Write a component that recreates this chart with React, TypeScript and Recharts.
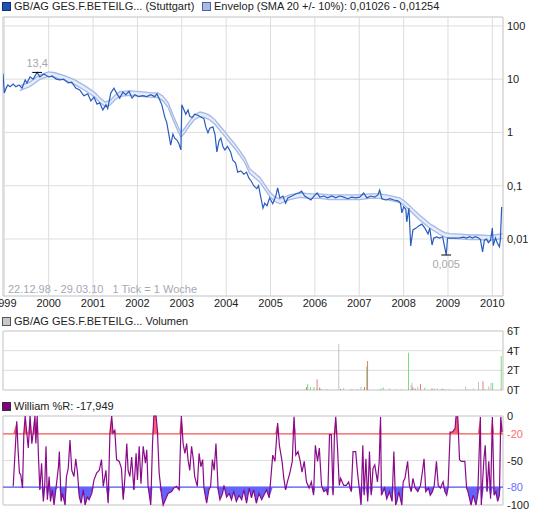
import React from 'react';
import {
  ComposedChart, Line, Area, Bar, Cell, XAxis, YAxis, CartesianGrid, ReferenceLine, ReferenceArea,
} from 'recharts';

// ---------- data ----------
const yearTicks = [1999, 2000, 2001, 2002, 2003, 2004, 2005, 2006, 2007, 2008, 2009, 2010];
const timeDomain: [number, number] = [1998.97, 2010.24];
const priceTicks = [0.01, 0.1, 1, 10, 100];
const priceDomain: [number, number] = [0.00085, 147];
const volumeTicks = [0, 2, 4, 6];
const williamsTicks = [0, -20, -50, -80, -100];

// weekly close (EUR): [time in years, price]
const priceSeries: [number, number][] = [
  [1998.97, 12.8], [1999.0, 5.5], [1999.04, 6.8], [1999.08, 7.8], [1999.13, 7.2], [1999.2, 8.1], [1999.26, 7.2],
  [1999.33, 7.8], [1999.4, 6.8], [1999.47, 9.7], [1999.51, 8.5], [1999.58, 11.0], [1999.65, 10.0], [1999.74, 13.4],
  [1999.8, 11.0], [1999.89, 12.5], [2000.0, 11.0], [2000.08, 11.5], [2000.17, 10.0], [2000.25, 9.7], [2000.34, 10.0],
  [2000.44, 8.5], [2000.52, 8.8], [2000.61, 6.8], [2000.7, 6.3], [2000.79, 4.9], [2000.88, 5.3], [2000.95, 3.9],
  [2001.02, 4.6], [2001.09, 3.4], [2001.15, 3.6], [2001.22, 2.65], [2001.29, 3.3], [2001.33, 2.8], [2001.4, 5.5],
  [2001.47, 6.8], [2001.54, 5.3], [2001.6, 4.4], [2001.67, 5.7], [2001.74, 5.1], [2001.81, 5.9], [2001.88, 4.4],
  [2001.94, 5.1], [2002.03, 4.7], [2002.12, 4.9], [2002.21, 4.7], [2002.3, 5.1], [2002.39, 4.7], [2002.44, 5.3],
  [2002.5, 4.1], [2002.55, 3.3], [2002.62, 1.9], [2002.66, 1.55], [2002.71, 0.9], [2002.75, 0.58], [2002.8, 0.93],
  [2002.84, 0.78], [2002.89, 0.72], [2002.93, 0.63], [2002.98, 0.47], [2003.0, 3.3], [2003.05, 2.65], [2003.09, 2.2],
  [2003.14, 2.65], [2003.18, 2.0], [2003.23, 1.9], [2003.29, 2.2], [2003.36, 2.1], [2003.43, 1.95], [2003.5, 1.8],
  [2003.54, 1.27], [2003.59, 0.98], [2003.63, 1.2], [2003.7, 1.27], [2003.75, 0.9], [2003.79, 0.43], [2003.84, 0.7],
  [2003.88, 0.78], [2003.93, 0.53], [2003.97, 0.47], [2004.03, 0.55], [2004.1, 0.43], [2004.15, 0.3], [2004.21, 0.27],
  [2004.26, 0.18], [2004.33, 0.19], [2004.4, 0.165], [2004.46, 0.18], [2004.51, 0.14], [2004.57, 0.12], [2004.62, 0.1],
  [2004.69, 0.088], [2004.73, 0.1], [2004.78, 0.061], [2004.83, 0.038], [2004.87, 0.047], [2004.92, 0.042],
  [2004.98, 0.059], [2005.05, 0.046], [2005.12, 0.064], [2005.16, 0.091], [2005.21, 0.059], [2005.28, 0.064],
  [2005.34, 0.047], [2005.39, 0.059], [2005.48, 0.064], [2005.57, 0.07], [2005.64, 0.073], [2005.7, 0.079],
  [2005.77, 0.064], [2005.84, 0.059], [2005.91, 0.054], [2005.98, 0.064], [2006.05, 0.073], [2006.11, 0.061],
  [2006.2, 0.064], [2006.29, 0.059], [2006.38, 0.064], [2006.47, 0.059], [2006.56, 0.064], [2006.65, 0.061],
  [2006.74, 0.057], [2006.83, 0.061], [2006.92, 0.059], [2007.01, 0.061], [2007.1, 0.073], [2007.17, 0.059],
  [2007.26, 0.064], [2007.35, 0.061], [2007.42, 0.067], [2007.46, 0.083], [2007.51, 0.057], [2007.6, 0.054],
  [2007.69, 0.057], [2007.78, 0.054], [2007.87, 0.052], [2007.93, 0.047], [2007.96, 0.031], [2008.0, 0.04],
  [2008.05, 0.036], [2008.07, 0.021], [2008.12, 0.038], [2008.16, 0.0074], [2008.21, 0.0148], [2008.28, 0.016],
  [2008.34, 0.0175], [2008.41, 0.019], [2008.48, 0.016], [2008.55, 0.0124], [2008.59, 0.016], [2008.64, 0.0077],
  [2008.68, 0.0104], [2008.75, 0.0109], [2008.81, 0.0104], [2008.88, 0.011], [2008.96, 0.005], [2008.99, 0.0104],
  [2009.08, 0.0104], [2009.17, 0.0104], [2009.26, 0.0105], [2009.35, 0.0108], [2009.42, 0.0104], [2009.49, 0.011],
  [2009.55, 0.0104], [2009.62, 0.011], [2009.69, 0.0104], [2009.73, 0.0098], [2009.78, 0.0057], [2009.82, 0.0095],
  [2009.87, 0.01], [2009.91, 0.0085], [2009.96, 0.0095], [2010.0, 0.016], [2010.02, 0.0075], [2010.07, 0.0105],
  [2010.11, 0.0085], [2010.16, 0.0071], [2010.18, 0.0095], [2010.21, 0.04],
];

// SMA 20 midline of the envelope
const envelopeMid: [number, number][] = [
  [1999.35, 6.8], [1999.58, 8.1], [1999.8, 11.0], [2000.0, 12.5], [2000.14, 12.0], [2000.37, 10.5], [2000.59, 8.8],
  [2000.82, 6.8], [2001.04, 5.1], [2001.15, 4.1], [2001.27, 3.4], [2001.38, 3.6], [2001.49, 4.5], [2001.6, 5.3],
  [2001.83, 5.5], [2002.06, 5.3], [2002.28, 5.1], [2002.46, 5.0], [2002.57, 4.4], [2002.69, 3.3], [2002.8, 1.95],
  [2002.91, 1.2], [2002.98, 0.9], [2003.07, 1.1], [2003.18, 1.5], [2003.29, 1.95], [2003.41, 2.2], [2003.52, 2.1],
  [2003.63, 1.9], [2003.74, 1.6], [2003.86, 1.2], [2003.97, 0.94], [2004.08, 0.72], [2004.2, 0.55], [2004.31, 0.41],
  [2004.42, 0.3], [2004.53, 0.19], [2004.65, 0.155], [2004.76, 0.13], [2004.87, 0.095], [2004.98, 0.07],
  [2005.1, 0.056], [2005.21, 0.051], [2005.32, 0.056], [2005.43, 0.061], [2005.66, 0.067], [2005.88, 0.064],
  [2006.11, 0.064], [2006.33, 0.061], [2006.56, 0.061], [2006.78, 0.061], [2007.01, 0.061], [2007.23, 0.064],
  [2007.46, 0.064], [2007.69, 0.059], [2007.91, 0.054], [2008.02, 0.047], [2008.14, 0.038], [2008.25, 0.031],
  [2008.37, 0.025], [2008.48, 0.021], [2008.59, 0.0176], [2008.7, 0.0155], [2008.81, 0.0135], [2008.93, 0.012],
  [2009.04, 0.0115], [2009.26, 0.0112], [2009.49, 0.0108], [2009.71, 0.0108], [2009.94, 0.0105], [2010.23, 0.0114],
];
const envelopePct = 0.1;

// volume in thousands: [time, volume, direction]
const volumeSeries: [number, number, string][] = [
  [2005.76, 0.05, 'up'], [2005.81, 0.3, 'down'], [2005.84, 0.6, 'up'], [2005.9, 0.3, 'up'], [2005.98, 0.3, 'up'],
  [2006.05, 1.1, 'down'], [2006.11, 0.25, 'down'], [2006.14, 0.08, 'down'], [2006.27, 0.1, 'up'], [2006.33, 0.05, 'flat'],
  [2006.54, 4.7, 'flat'], [2006.58, 0.1, 'down'], [2006.65, 0.2, 'flat'], [2006.82, 0.1, 'flat'], [2006.86, 0.1, 'flat'],
  [2006.96, 0.1, 'flat'], [2007.04, 0.3, 'flat'], [2007.12, 0.3, 'down'], [2007.17, 2.4, 'up'], [2007.19, 2.95, 'down'],
  [2007.49, 0.15, 'up'], [2007.54, 0.25, 'up'], [2007.68, 0.15, 'flat'], [2007.82, 0.08, 'flat'], [2007.94, 0.08, 'flat'],
  [2008.11, 3.8, 'up'], [2008.17, 0.5, 'flat'], [2008.19, 0.75, 'flat'], [2008.21, 0.25, 'down'], [2008.26, 0.15, 'down'],
  [2008.32, 0.35, 'flat'], [2008.38, 0.6, 'down'], [2008.48, 0.25, 'up'], [2008.64, 0.15, 'down'], [2008.69, 0.15, 'up'],
  [2008.76, 0.15, 'flat'], [2008.84, 0.08, 'flat'], [2008.87, 0.15, 'flat'], [2008.89, 0.08, 'down'], [2008.95, 0.08, 'flat'],
  [2009.02, 0.08, 'flat'], [2009.4, 0.35, 'flat'], [2009.45, 0.08, 'up'], [2009.57, 0.15, 'flat'], [2009.69, 0.85, 'flat'],
  [2009.79, 0.9, 'down'], [2009.84, 0.08, 'flat'], [2009.92, 0.35, 'flat'], [2009.97, 0.7, 'flat'], [2010.01, 0.75, 'up'],
  [2010.2, 3.45, 'up'],
];

// Williams %R: [time, value]
const williamsSeries: [number, number][] = [
  [1999.2, -79], [1999.28, -6], [1999.31, -38], [1999.34, -64], [1999.37, -66], [1999.41, -81], [1999.44, -19],
  [1999.47, 0], [1999.5, -16], [1999.54, -36], [1999.58, 0], [1999.62, -31], [1999.65, -19], [1999.69, 0],
  [1999.71, -31], [1999.74, 0], [1999.77, -46], [1999.8, -83], [1999.84, -53], [1999.88, -96], [1999.91, -79],
  [1999.94, -34], [1999.97, -94], [2000.01, -68], [2000.04, -96], [2000.08, -83], [2000.12, -100], [2000.16, -83],
  [2000.22, -57], [2000.24, -40], [2000.28, -96], [2000.31, -87], [2000.37, -100], [2000.4, -68], [2000.44, -59],
  [2000.48, -27], [2000.52, -61], [2000.57, -68], [2000.61, -48], [2000.65, -64], [2000.69, -91], [2000.73, -98],
  [2000.78, -83], [2000.82, -100], [2000.87, -91], [2000.91, -94], [2000.97, -87], [2001.02, -72], [2001.08, -64],
  [2001.14, -61], [2001.19, -49], [2001.23, -79], [2001.29, -61], [2001.34, -98], [2001.38, -19], [2001.42, 0],
  [2001.45, -19], [2001.49, -16], [2001.53, -49], [2001.59, -51], [2001.64, -59], [2001.68, -94], [2001.72, -68],
  [2001.76, -31], [2001.79, -61], [2001.83, -68], [2001.87, -46], [2001.92, -83], [2001.97, -42], [2002.0, -72],
  [2002.04, -34], [2002.08, -76], [2002.13, -34], [2002.18, -53], [2002.21, -38], [2002.24, -79], [2002.3, -100],
  [2002.34, -31], [2002.37, 0], [2002.42, 0], [2002.45, -16], [2002.49, -64], [2002.54, -87], [2002.58, -100],
  [2002.63, -94], [2002.69, -87], [2002.77, -85], [2002.82, -81], [2002.88, -79], [2002.94, -83], [2002.99, 0],
  [2003.03, -31], [2003.07, -42], [2003.11, -31], [2003.14, -49], [2003.18, -61], [2003.22, -34], [2003.26, -49],
  [2003.29, -68], [2003.35, -79], [2003.39, -42], [2003.43, -57], [2003.47, -49], [2003.5, -81], [2003.56, -98],
  [2003.61, -83], [2003.65, -79], [2003.69, -49], [2003.73, -61], [2003.77, -31], [2003.82, -83], [2003.86, -94],
  [2003.92, -87], [2003.95, -78], [2004.01, -91], [2004.07, -87], [2004.12, -94], [2004.17, -85], [2004.23, -96],
  [2004.29, -89], [2004.35, -94], [2004.4, -83], [2004.46, -98], [2004.52, -81], [2004.57, -92], [2004.62, -83],
  [2004.68, -98], [2004.74, -87], [2004.8, -94], [2004.85, -89], [2004.91, -83], [2004.97, -92], [2005.05, -44],
  [2005.1, -51], [2005.16, -8], [2005.2, -33], [2005.26, -51], [2005.3, -70], [2005.34, -83], [2005.38, -74],
  [2005.44, -63], [2005.49, -51], [2005.53, -1], [2005.57, -44], [2005.62, -40], [2005.67, -51], [2005.71, -63],
  [2005.76, -51], [2005.81, -74], [2005.87, -81], [2005.92, -74], [2005.97, -89], [2006.01, -33], [2006.06, -51],
  [2006.1, -36], [2006.15, -78], [2006.2, -85], [2006.26, -83], [2006.29, -89], [2006.33, -21], [2006.37, -21],
  [2006.41, -89], [2006.44, -21], [2006.47, -1], [2006.51, -36], [2006.55, -78], [2006.58, -70], [2006.65, -78],
  [2006.71, -78], [2006.76, -74], [2006.82, -85], [2006.86, -40], [2006.92, -40], [2006.96, -63], [2007.0, -81],
  [2007.04, -100], [2007.08, -33], [2007.11, -89], [2007.15, -48], [2007.19, -96], [2007.23, -40], [2007.27, -89],
  [2007.31, -59], [2007.35, -55], [2007.41, -74], [2007.45, -51], [2007.48, -1], [2007.5, -89], [2007.57, -81],
  [2007.62, -93], [2007.68, -85], [2007.74, -96], [2007.78, -40], [2007.82, -100], [2007.85, -96], [2007.89, -85],
  [2007.96, -100], [2007.99, -74], [2008.03, -70], [2008.09, -51], [2008.13, -78], [2008.17, -85], [2008.21, -70],
  [2008.26, -81], [2008.32, -85], [2008.38, -78], [2008.42, -64], [2008.46, -48], [2008.5, -85], [2008.56, -81],
  [2008.6, -89], [2008.65, -85], [2008.69, -78], [2008.74, -51], [2008.78, -78], [2008.83, -81], [2008.89, -74],
  [2008.93, -85], [2008.97, -89], [2009.0, -81], [2009.05, -18], [2009.1, -18], [2009.16, -14], [2009.18, -1],
  [2009.22, -1], [2009.26, -49], [2009.3, -51], [2009.38, -51], [2009.42, -81], [2009.45, -85], [2009.52, -100],
  [2009.57, -89], [2009.63, -100], [2009.67, -89], [2009.73, -1], [2009.75, -100], [2009.81, -48], [2009.84, -33],
  [2009.88, -85], [2009.92, -51], [2009.96, -93], [2010.0, -1], [2010.04, -89], [2010.08, -85], [2010.12, -96],
  [2010.16, -89], [2010.19, -1], [2010.22, -18],
];
const overbought = -20;
const oversold = -80;

// ---------- derived tables ----------
const priceData = priceSeries.map(([t, v]) => ({ t, v }));
const bandData = envelopeMid.map(([t, m]) => ({ t, lo: m * (1 - envelopePct), hi: m * (1 + envelopePct) }));
const volumeData = volumeSeries.map(([t, v, dir]) => ({ t, v, dir }));
const williamsData = williamsSeries.map(([t, w]) => ({ t, w }));

const volColors: Record<string, string> = { up: '#5fd35f', down: '#e05a5a', flat: '#b4b4b4' };
const FONT = "'Liberation Sans', Arial, Helvetica, sans-serif";
const GRID = '#dddddd';
const BORDER = '#d2d2d2';

const fmtPrice = (v: number) => String(v).replace('.', ',');

const LegendItem = ({ color, border, label, left }: { color: string; border: string; label: string; left: number }) => (
  <div style={{ position: 'absolute', left, top: 0, display: 'flex', alignItems: 'center', whiteSpace: 'nowrap' }}>
    <span style={{ display: 'inline-block', width: 7, height: 7, background: color, border: `1px solid ${border}`, marginRight: 3 }} />
    <span>{label}</span>
  </div>
);

const WTick = (p: any) => {
  const v = p.payload.value;
  const fill = v === overbought ? '#ff6a6a' : v === oversold ? '#6a6aff' : '#222';
  return (
    <text x={p.x} y={p.y} dy={4} fontSize={11} fill={fill} textAnchor="start" fontFamily={FONT}>{v}</text>
  );
};

export default function App() {
  return (
    <div style={{ position: 'absolute', left: 0, top: 0, width: 545, height: 515, background: '#fff', fontFamily: FONT, fontSize: 11, color: '#222', overflow: 'hidden' }}>
      {/* main price chart */}
      <div style={{ position: 'absolute', left: 0, top: 0 }}>
        <ComposedChart width={545} height={315} margin={{ top: 17, right: 0, bottom: 0, left: 3 }}>
          <CartesianGrid stroke={GRID} />
          <XAxis type="number" dataKey="t" domain={timeDomain} allowDataOverflow ticks={yearTicks} interval={0}
            tickLine={false} axisLine={false} tickSize={0} tickMargin={3} height={19}
            tick={{ fontSize: 11, fill: '#222' }} />
          <YAxis orientation="right" scale="log" type="number" domain={priceDomain} allowDataOverflow ticks={priceTicks}
            interval={0} width={42} tickLine={false} axisLine={false} tickSize={2} tickMargin={2}
            tick={{ fontSize: 11, fill: '#222' }} tickFormatter={fmtPrice} />
          <ReferenceArea x1={timeDomain[0]} x2={timeDomain[1]} y1={priceDomain[0]} y2={priceDomain[1]}
            fill="none" stroke={BORDER} strokeWidth={1} />
          <Area data={bandData} dataKey={(d: any) => [d.lo, d.hi]} type="linear" stroke="none"
            fill="#dbe4f6" fillOpacity={0.7} isAnimationActive={false} />
          <Line data={bandData} dataKey="hi" type="linear" stroke="#a3b9e6" strokeWidth={1.3} dot={false} isAnimationActive={false} />
          <Line data={bandData} dataKey="lo" type="linear" stroke="#a3b9e6" strokeWidth={1.3} dot={false} isAnimationActive={false} />
          <Line data={priceData} dataKey="v" type="linear" stroke="#2a5bbf" strokeWidth={1.2} dot={false} isAnimationActive={false} />
          <ReferenceLine segment={[{ x: 1999.63, y: 13.4 }, { x: 1999.85, y: 13.4 }]} stroke="#000" strokeWidth={1}
            label={{ value: '13,4', position: 'top', fill: '#a8a8a8', fontSize: 11 }} />
          <ReferenceLine segment={[{ x: 2008.85, y: 0.005 }, { x: 2009.07, y: 0.005 }]} stroke="#000" strokeWidth={1}
            label={{ value: '0,005', position: 'bottom', fill: '#a8a8a8', fontSize: 11 }} />
        </ComposedChart>
      </div>
      <div style={{ position: 'absolute', left: 0, top: 0, width: 545, height: 14 }}>
        <LegendItem color="#2050b4" border="#123070" label="GB/AG GES.F.BETEILG... (Stuttgart)" left={2} />
        <LegendItem color="#a7bbe6" border="#4c629c" label="Envelop (SMA 20 +/- 10%): 0,01026 - 0,01254" left={202} />
      </div>
      <div style={{ position: 'absolute', left: 8, top: 283, color: '#a4a9b6', whiteSpace: 'pre' }}>
        {'22.12.98 - 29.03.10   1 Tick = 1 Woche'}
      </div>

      {/* volume chart */}
      <div style={{ position: 'absolute', left: 0, top: 316 }}>
        <ComposedChart width={545} height={80} data={volumeData} margin={{ top: 15, right: 0, bottom: 6, left: 3 }}>
          <CartesianGrid stroke={GRID} />
          <XAxis type="number" dataKey="t" domain={timeDomain} allowDataOverflow ticks={yearTicks} interval={0}
            tick={false} tickLine={false} axisLine={false} height={0} />
          <YAxis orientation="right" type="number" domain={[0, 6]} ticks={volumeTicks} interval={0} width={42}
            tickLine={false} axisLine={false} tickSize={2} tickMargin={2}
            tick={{ fontSize: 11, fill: '#222' }} tickFormatter={(v: number) => `${v}T`} />
          <ReferenceArea x1={timeDomain[0]} x2={timeDomain[1]} y1={0} y2={6} fill="none" stroke={BORDER} />
          <Bar dataKey="v" barSize={1} isAnimationActive={false}>
            {volumeData.map((d, i) => (
              <Cell key={i} fill={volColors[d.dir]} />
            ))}
          </Bar>
        </ComposedChart>
      </div>
      <div style={{ position: 'absolute', left: 0, top: 315, width: 545, height: 14 }}>
        <LegendItem color="#c8c8c8" border="#555" label="GB/AG GES.F.BETEILG... Volumen" left={2} />
      </div>

      {/* Williams %R chart */}
      <div style={{ position: 'absolute', left: 0, top: 400 }}>
        <ComposedChart width={545} height={115} data={williamsData} margin={{ top: 16, right: 0, bottom: 10, left: 3 }}>
          <CartesianGrid stroke={GRID} />
          <XAxis type="number" dataKey="t" domain={timeDomain} allowDataOverflow ticks={yearTicks} interval={0}
            tick={false} tickLine={false} axisLine={false} height={0} />
          <YAxis orientation="right" type="number" domain={[-100, 0]} ticks={williamsTicks} interval={0} width={42}
            tickLine={false} axisLine={false} tickSize={2} tickMargin={2} tick={<WTick />} />
          <ReferenceArea x1={timeDomain[0]} x2={timeDomain[1]} y1={-100} y2={0} fill="none" stroke={BORDER} />
          <Area dataKey={(d: any) => [overbought, Math.max(d.w, overbought)]} type="linear" stroke="none"
            fill="#ff6464" fillOpacity={1} isAnimationActive={false} />
          <Area dataKey={(d: any) => [Math.min(d.w, oversold), oversold]} type="linear" stroke="none"
            fill="#6464fa" fillOpacity={1} isAnimationActive={false} />
          <ReferenceLine y={overbought} stroke="#ff5a5a" strokeWidth={1.2} />
          <ReferenceLine y={oversold} stroke="#5a5aff" strokeWidth={1.2} />
          <Line dataKey="w" type="linear" stroke="#8a0a8a" strokeWidth={1.2} dot={false} isAnimationActive={false} />
        </ComposedChart>
      </div>
      <div style={{ position: 'absolute', left: 0, top: 400, width: 545, height: 14 }}>
        <LegendItem color="#800080" border="#333" label="William %R: -17,949" left={2} />
      </div>
    </div>
  );
}
